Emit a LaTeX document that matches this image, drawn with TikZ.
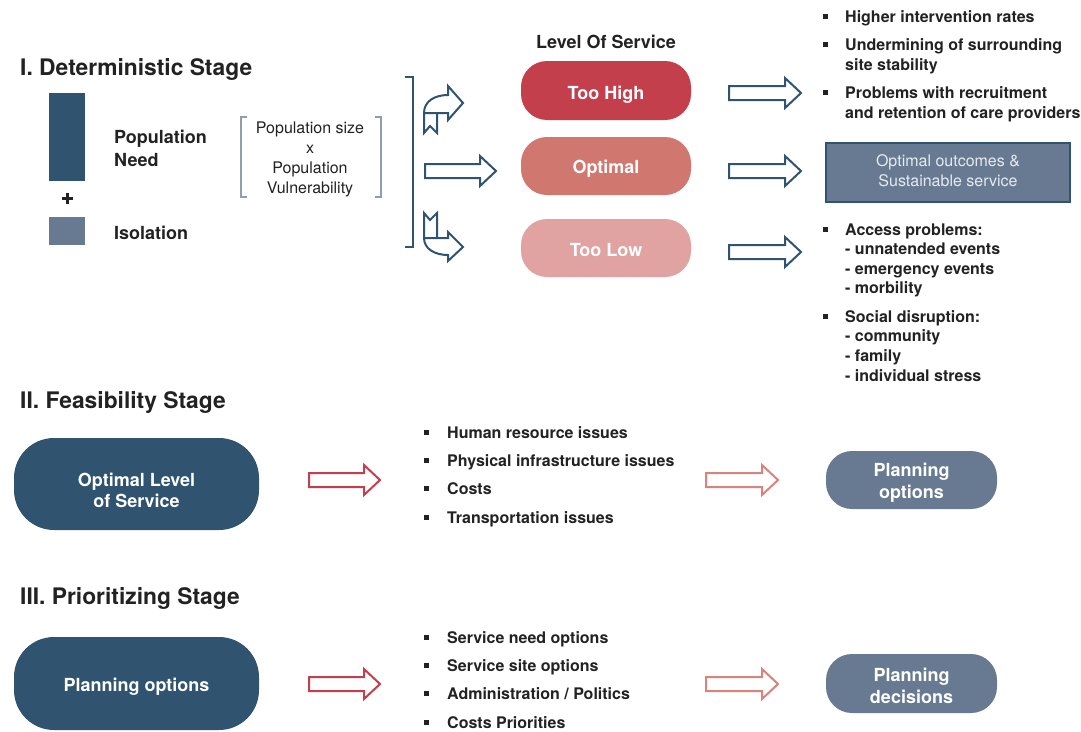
\documentclass[tikz,border=0pt]{standalone}
\usepackage{fontspec}
\setmainfont{TeX Gyre Heros}
\definecolor{dblue}{HTML}{30536F}
\definecolor{slate}{HTML}{687A92}
\definecolor{lred}{HTML}{C23F4B}
\definecolor{salmon}{HTML}{D0776F}
\definecolor{lpink}{HTML}{E0A3A2}
\definecolor{parrow}{HTML}{D8837C}
\definecolor{tdark}{HTML}{222222}
\definecolor{bgrey}{HTML}{8F9DB0}
\definecolor{boxtxt}{HTML}{E6EAF0}
\newcommand\blockarr[5]{% name x y length colour
  \coordinate (#1) at (#2,#3);
  \draw[line width=2pt,#5,line join=miter,fill=white]
    (#2,#3-7) -- (#2+#4-16,#3-7) -- (#2+#4-16,#3-15) -- (#2+#4,#3)
    -- (#2+#4-16,#3+15) -- (#2+#4-16,#3+7) -- (#2,#3+7) -- cycle;}
\newcommand\bul[2]{\fill[tdark] (#1-2.5,#2-2.5) rectangle (#1+2.5,#2+2.5);}
\begin{document}
\begin{tikzpicture}[x=1pt,y=-1pt,
  txt/.style={inner sep=0,anchor=base west,text=tdark},
  head/.style={txt,font=\fontsize{22.8}{27}\selectfont\bfseries},
  lbl/.style={txt,font=\fontsize{18}{21.5}\selectfont\bfseries},
  item/.style={txt,font=\fontsize{16}{19.5}\selectfont\bfseries},
  reg/.style={inner sep=0,anchor=base,text=tdark,font=\fontsize{16}{20}\selectfont},
  pill/.style={inner sep=0,rounded corners=26pt},
  ptxt/.style={inner sep=0,anchor=base,text=white,font=\fontsize{18}{21.5}\selectfont\bfseries},
  bent/.style={line width=2pt,dblue,line join=miter}]
\useasboundingbox[fill=white] (0,0) rectangle (1081,731);

% ---------- Stage I ----------
\node[head] (h1) at (20,75) {I. Deterministic Stage};
\fill[dblue] (49,93) rectangle (85,181);
\fill[slate] (49,217) rectangle (85,245);
\draw[tdark,line width=3pt] (61.5,198.5) -- (72.5,198.5) (67,193) -- (67,204);
\node[lbl] (pn1) at (114,143.5) {Population};
\node[lbl] (pn2) at (114,166.5) {Need};
\node[lbl] (iso) at (114,239.5) {Isolation};

\draw[bgrey,line width=1.3pt] (247,117) -- (241,117) -- (241,197) -- (247,197);
\draw[bgrey,line width=1.3pt] (375,117) -- (381,117) -- (381,197) -- (375,197);
\node[reg] (f1) at (310,133) {Population size};
\node[reg] (f2) at (310,153) {x};
\node[reg] (f3) at (310,173) {Population};
\node[reg] (f4) at (310,193) {Vulnerability};

\draw[dblue,line width=2pt] (405,77) -- (413,77) -- (413,247) -- (405,247);

% bent arrows
\draw[bent] (424,113) -- (448,113) -- (448,120) -- (463,103) -- (448,86) -- (448,95)
  .. controls (435,95) and (424,101) .. (424,113) -- (424,133) -- (430,126) -- (437,133) -- (437,113);
\blockarr{amid}{425}{171}{71}{dblue}
\draw[bent] (424,238) -- (448,238) -- (448,232) -- (463,247) -- (448,261) -- (448,255)
  .. controls (435,255) and (424,249) .. (424,238) -- (424,213) -- (430,220) -- (437,213) -- (437,238);

\node[inner sep=0,anchor=base,text=tdark,font=\fontsize{18}{21.5}\selectfont\bfseries] (los) at (606,48) {Level Of Service};
\node[pill,fill=lred,minimum width=170pt,minimum height=59pt] (hi) at (606,90.5) {};
\node[ptxt] (hit) at (606,99) {Too High};
\node[pill,fill=salmon,minimum width=170pt,minimum height=58pt] (opt) at (606,166) {};
\node[ptxt] (optt) at (606,173) {Optimal};
\node[pill,fill=lpink,minimum width=170pt,minimum height=58pt] (lo) at (606,248) {};
\node[ptxt] (lot) at (606,256.5) {Too Low};

\blockarr{r1}{729}{93}{72}{dblue}
\blockarr{r2}{729}{171}{72}{dblue}
\blockarr{r3}{729}{252}{72}{dblue}

% outcomes
\bul{825.5}{16}
\node[item] (t1) at (845,22) {Higher intervention rates};
\bul{825.5}{44}
\node[item] (t2) at (845,50) {Undermining of surrounding};
\node[item] (t3) at (845,70) {site stability};
\bul{825.5}{92}
\node[item] (t4) at (845,98) {Problems with recruitment};
\node[item] (t5) at (845,118) {and retention of care providers};

\node[draw=dblue,line width=2pt,fill=slate,minimum width=244pt,minimum height=59pt,inner sep=0] (ob) at (948,172.5) {};
\node[inner sep=0,anchor=base,text=boxtxt,font=\fontsize{16}{20}\selectfont] (ob1) at (948,166) {Optimal outcomes \&};
\node[inner sep=0,anchor=base,text=boxtxt,font=\fontsize{16}{20}\selectfont] (ob2) at (948,186) {Sustainable service};

\bul{825.5}{229}
\node[item] (b1) at (845,235) {Access problems:};
\node[item] (b2) at (845,254) {- unnatended events};
\node[item] (b3) at (845,274) {- emergency events};
\node[item] (b4) at (845,293) {- morbility};
\bul{825.5}{316}
\node[item] (b5) at (845,322) {Social disruption:};
\node[item] (b6) at (845,341) {- community};
\node[item] (b7) at (845,361) {- family};
\node[item] (b8) at (845,381) {- individual stress};

% ---------- Stage II ----------
\node[head] (h2) at (20,408) {II. Feasibility Stage};
\node[pill,fill=dblue,minimum width=245pt,minimum height=92pt,rounded corners=40pt] (olos) at (136.5,484) {};
\node[ptxt] (olos1) at (136.5,486) {Optimal Level};
\node[ptxt] (olos2) at (136.5,507) {of Service};
\blockarr{a2a}{309}{480}{71}{lred}
\bul{426.5}{432}
\node[item] (s1) at (447,438) {Human resource issues};
\bul{426.5}{460}
\node[item] (s2) at (447,466) {Physical infrastructure issues};
\bul{426.5}{488}
\node[item] (s3) at (447,494) {Costs};
\bul{426.5}{517}
\node[item] (s4) at (447,523) {Transportation issues};
\blockarr{a2b}{706}{480}{72}{parrow}
\node[pill,fill=slate,minimum width=171pt,minimum height=58pt] (po) at (911.5,480) {};
\node[ptxt] (po1) at (911.5,476) {Planning};
\node[ptxt] (po2) at (911.5,498) {options};

% ---------- Stage III ----------
\node[head] (h3) at (20,604) {III. Prioritizing Stage};
\node[pill,fill=dblue,minimum width=245pt,minimum height=93pt,rounded corners=40pt] (po3) at (136.5,683.5) {};
\node[ptxt] (po3t) at (136.5,691) {Planning options};
\blockarr{a3a}{309}{684}{71}{lred}
\bul{426.5}{637}
\node[item] (p1) at (447,643) {Service need options};
\bul{426.5}{665}
\node[item] (p2) at (447,671) {Service site options};
\bul{426.5}{693}
\node[item] (p3) at (447,699) {Administration / Politics};
\bul{426.5}{722}
\node[item] (p4) at (447,728) {Costs Priorities};
\blockarr{a3b}{706}{684}{72}{parrow}
\node[pill,fill=slate,minimum width=171pt,minimum height=59pt] (pd) at (911.5,683.5) {};
\node[ptxt] (pd1) at (911.5,681.5) {Planning};
\node[ptxt] (pd2) at (911.5,703.5) {decisions};
\end{tikzpicture}
\end{document}
